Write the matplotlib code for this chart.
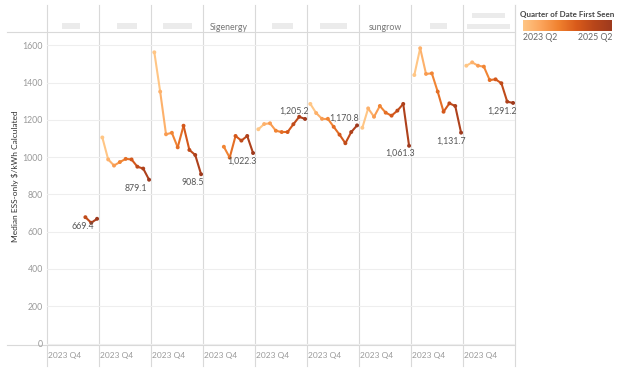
import matplotlib
matplotlib.use('Agg')
import matplotlib.pyplot as plt
import numpy as np
from matplotlib.colors import LinearSegmentedColormap, Normalize

plt.rcParams['font.family'] = ['Lato', 'DejaVu Sans']

#===========data===========
quarters = ['2023 Q2', '2023 Q3', '2023 Q4', '2024 Q1', '2024 Q2',
            '2024 Q3', '2024 Q4', '2025 Q1', '2025 Q2']
# panel headers (None = name redacted in the source)
brands = [None, None, None, 'Sigenergy', None, None, 'sungrow', None, None]
start_q = [6, 0, 0, 3, 0, 0, 0, 0, 0]
p1 = [678, 648, 669.4]
p2 = [1106, 988, 955, 974, 991, 988, 949, 939, 879.1]
p3 = [1563, 1352, 1123, 1131, 1053, 1169, 1039, 1012, 908.5]
p4 = [1056, 998, 1114, 1089, 1114, 1022.3]
p5 = [1150, 1178, 1182, 1142, 1135, 1135, 1177, 1217, 1205.2]
p6 = [1286, 1237, 1206, 1206, 1163, 1121, 1075, 1135, 1170.8]
p7 = [1158, 1262, 1217, 1275, 1239, 1223, 1250, 1286, 1061.3]
p8 = [1441, 1585, 1447, 1450, 1352, 1244, 1289, 1275, 1131.7]
p9 = [1491, 1509, 1491, 1486, 1414, 1418, 1397, 1298, 1291.2]
panels = [p1, p2, p3, p4, p5, p6, p7, p8, p9]

#===========style===========
W, H = 624, 375
cmap = LinearSegmentedColormap.from_list(
    'tab_orange', ['#ffc685', '#fca55c', '#f0812f', '#d95b1b', '#b8461a', '#9e3a1e'])
norm = Normalize(0, len(quarters) - 1)
label_off = [(-14, -7.5), (-13, -9), (-8, -8), (-11, -8), (-11.5, 7.6),
             (-13, 7), (-9, -7.5), (-10, -8.5), (-11, -8.5)]
grid_c = '#eeeeee'
sep_c = '#d9d9d9'

fig = plt.figure(figsize=(W / 100, H / 100), dpi=100)

def px(x0, y0, w, h):
    return [x0 / W, 1 - (y0 + h) / H, w / W, h / H]

# overlay for frame lines / header
ov = fig.add_axes([0, 0, 1, 1], zorder=0)
ov.set_xlim(0, W)
ov.set_ylim(H, 0)
ov.axis('off')

left, pw = 47, 52
top, bot = 32, 345
ov.plot([7, 515], [top, top], color=sep_c, lw=0.8)
ov.plot([7, 515], [bot, bot], color=sep_c, lw=0.8)
for k in range(len(panels) + 1):
    xx = left + k * pw
    ov.plot([xx, xx], [5, 366], color=sep_c, lw=0.8)
ov.plot([515, 515], [5, 40], color=sep_c, lw=0.8)

redacted = {0: [(62, 23, 18, 6)], 1: [(117, 23, 20, 6)], 2: [(163, 23, 29, 6)],
            4: [(272, 23, 21, 6)], 5: [(320, 23, 27, 6)], 7: [(430, 23, 17, 6)],
            8: [(472, 13, 33, 5), (467, 24, 43, 5)]}
for k, name in enumerate(brands):
    cx = left + k * pw + pw / 2
    if name is not None:
        ov.text(cx, 27, name, ha='center', va='center', fontsize=6.3, color='#777777')
    else:
        for (rx, ry, rw, rh) in redacted[k]:
            ov.add_patch(plt.Rectangle((rx, ry), rw, rh, color='#ebebeb', lw=0))

for k, vals in enumerate(panels):
    ax = fig.add_axes(px(left + k * pw, top, pw, bot - top), zorder=1)
    ax.set_facecolor('none')
    ax.set_xlim(-0.57, 8.33)
    ax.set_ylim(-8, 1672)
    ax.set_yticks(range(0, 1601, 200))
    ax.grid(axis='y', color=grid_c, lw=0.8)
    ax.set_axisbelow(True)
    for s in ax.spines.values():
        s.set_visible(False)
    ax.set_xticks([2.5])
    ax.set_xticklabels(['2023 Q4'])
    ax.tick_params(axis='x', length=0, pad=5, labelsize=6, labelcolor='#999999')
    if k == 0:
        ax.tick_params(axis='y', length=0, pad=3, labelsize=6.3, labelcolor='#999999')
    else:
        ax.tick_params(axis='y', length=0, labelleft=False)

    xs = np.arange(start_q[k], start_q[k] + len(vals))
    for j in range(len(vals) - 1):
        ax.plot(xs[j:j + 2], vals[j:j + 2], color=cmap(norm(xs[j])), lw=1.5,
                solid_capstyle='round')
    ax.scatter(xs, vals, c=[cmap(norm(q)) for q in xs], s=8, zorder=3, lw=0)
    ax.annotate(f"{vals[-1]:,.1f}", (xs[-1], vals[-1]), xytext=label_off[k],
                textcoords='offset pixels', ha='center', va='center',
                fontsize=6.3, color='#555555', zorder=4)

fig.text(15 / W, 1 - 176 / H, 'Median ESS-only \\$/kWh Calculated', rotation=90,
         ha='center', va='center', fontsize=6, color='#333333')

# legend
fig.text(520 / W, 1 - 15 / H, 'Quarter of Date First Seen', ha='left', va='center',
         fontsize=5.8, fontweight='bold', color='#444444')
lax = fig.add_axes(px(523, 20, 89, 11))
lax.imshow(np.linspace(0, 1, 256)[None, :], aspect='auto', cmap=cmap)
lax.set_xticks([])
lax.set_yticks([])
for s in lax.spines.values():
    s.set_visible(False)
fig.text(523 / W, 1 - 37.5 / H, quarters[0], ha='left', va='center', fontsize=6.3, color='#666666')
fig.text(612 / W, 1 - 37.5 / H, quarters[-1], ha='right', va='center', fontsize=6.3, color='#666666')

fig.savefig('out.png', dpi=100)
